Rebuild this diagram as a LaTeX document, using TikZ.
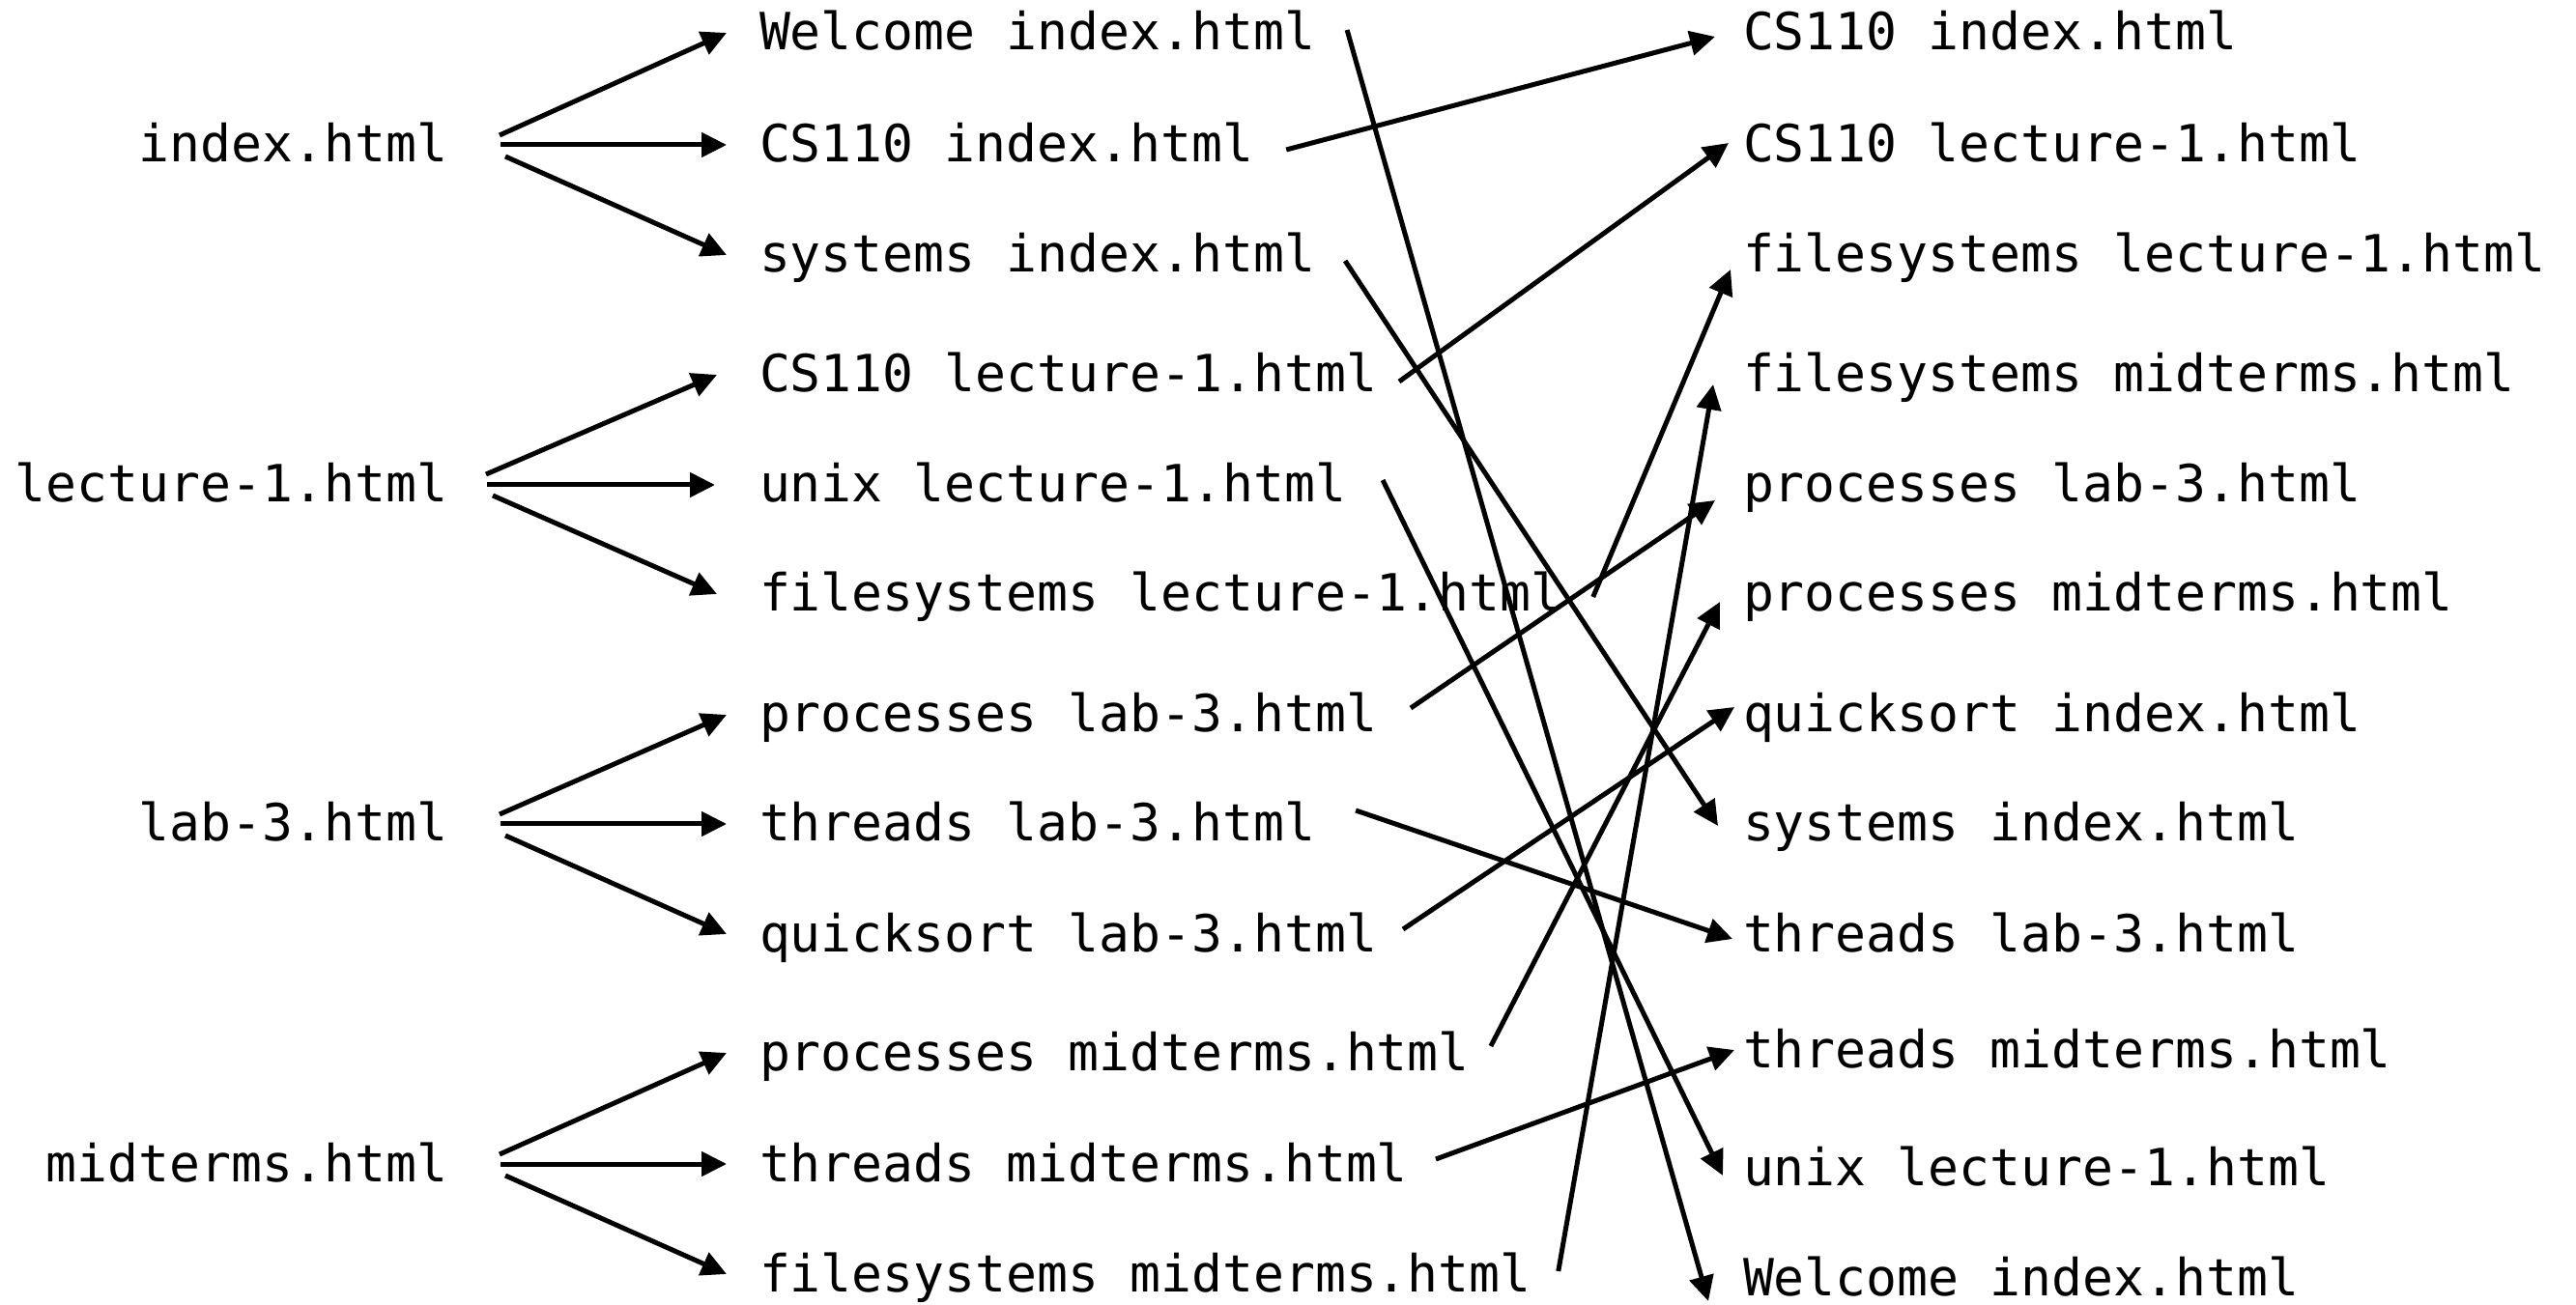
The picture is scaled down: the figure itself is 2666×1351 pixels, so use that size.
\documentclass[tikz,border=0pt]{standalone}
\usepackage{fontspec}
\setmainfont{DejaVu Sans Mono}
\usetikzlibrary{arrows.meta}
\tikzset{
  lbl/.style={inner sep=0pt, outer sep=0pt, text height=4mm, text depth=0.4mm, font=\fontsize{15.1pt}{18pt}\selectfont},
  leftlbl/.style={lbl, anchor=east},
  collbl/.style={lbl, anchor=west},
  arr/.style={-{Triangle[length=2.6mm,width=2.5mm]}, line width=0.5mm, black},
}
\begin{document}
\begin{tikzpicture}[x=0.1mm,y=-0.1mm]
\fill[white] (0,0) rectangle (2666,1351);
\useasboundingbox (0,0) rectangle (2666,1351);
% left column
\node[leftlbl] (l1) at (463,150) {index.html};
\node[leftlbl] (l2) at (463,502) {lecture-1.html};
\node[leftlbl] (l3) at (463,853) {lab-3.html};
\node[leftlbl] (l4) at (463,1205) {midterms.html};
% middle column
\node[collbl] (m1) at (786,34) {Welcome index.html};
\node[collbl] (m2) at (786,150) {CS110 index.html};
\node[collbl] (m3) at (786,264) {systems index.html};
\node[collbl] (m4) at (786,388) {CS110 lecture-1.html};
\node[collbl] (m5) at (786,502) {unix lecture-1.html};
\node[collbl] (m6) at (786,615) {filesystems lecture-1.html};
\node[collbl] (m7) at (786,740) {processes lab-3.html};
\node[collbl] (m8) at (786,853) {threads lab-3.html};
\node[collbl] (m9) at (786,967) {quicksort lab-3.html};
\node[collbl] (m10) at (786,1090) {processes midterms.html};
\node[collbl] (m11) at (786,1205) {threads midterms.html};
\node[collbl] (m12) at (786,1319) {filesystems midterms.html};
% right column
\node[collbl] (r1) at (1804,34) {CS110 index.html};
\node[collbl] (r2) at (1804,150) {CS110 lecture-1.html};
\node[collbl] (r3) at (1804,264) {filesystems lecture-1.html};
\node[collbl] (r4) at (1804,388) {filesystems midterms.html};
\node[collbl] (r5) at (1804,502) {processes lab-3.html};
\node[collbl] (r6) at (1804,615) {processes midterms.html};
\node[collbl] (r7) at (1804,740) {quicksort index.html};
\node[collbl] (r8) at (1804,853) {systems index.html};
\node[collbl] (r9) at (1804,967) {threads lab-3.html};
\node[collbl] (r10) at (1804,1087) {threads midterms.html};
\node[collbl] (r11) at (1804,1209) {unix lecture-1.html};
\node[collbl] (r12) at (1804,1323) {Welcome index.html};
% left -> middle
\draw[arr] ([shift={(54,-10)}]l1.east) -- ([shift={(-34,0)}]m1.west);
\draw[arr] ([shift={(55,0)}]l1.east) -- ([shift={(-34,0)}]m2.west);
\draw[arr] ([shift={(60,12)}]l1.east) -- ([shift={(-34,0)}]m3.west);
\draw[arr] ([shift={(40,-11)}]l2.east) -- ([shift={(-44,0)}]m4.west);
\draw[arr] ([shift={(41,0)}]l2.east) -- ([shift={(-46,0)}]m5.west);
\draw[arr] ([shift={(47,11)}]l2.east) -- ([shift={(-44,0)}]m6.west);
\draw[arr] ([shift={(54,-10)}]l3.east) -- ([shift={(-34,0)}]m7.west);
\draw[arr] ([shift={(55,0)}]l3.east) -- ([shift={(-34,0)}]m8.west);
\draw[arr] ([shift={(60,12)}]l3.east) -- ([shift={(-34,0)}]m9.west);
\draw[arr] ([shift={(54,-10)}]l4.east) -- ([shift={(-34,0)}]m10.west);
\draw[arr] ([shift={(55,0)}]l4.east) -- ([shift={(-34,0)}]m11.west);
\draw[arr] ([shift={(60,12)}]l4.east) -- ([shift={(-34,0)}]m12.west);
% middle -> right
\draw[arr] ([shift={(33,-3)}]m1.east) -- ([shift={(-36,24)}]r12.west);
\draw[arr] ([shift={(34,5)}]m2.east) -- ([shift={(-29,4)}]r1.west);
\draw[arr] ([shift={(31,6)}]m3.east) -- ([shift={(-26,2)}]r8.west);
\draw[arr] ([shift={(23,7)}]m4.east) -- ([shift={(-15,-2)}]r2.west);
\draw[arr] ([shift={(38,-5)}]m5.east) -- ([shift={(-21,8)}]r11.west);
\draw[arr] ([shift={(32,3)}]m6.east) -- ([shift={(-13,15)}]r3.west);
\draw[arr] ([shift={(35,-7)}]m7.east) -- ([shift={(-29,16)}]r5.west);
\draw[arr] ([shift={(42,-14)}]m8.east) -- ([shift={(-11,5)}]r9.west);
\draw[arr] ([shift={(27,-5)}]m9.east) -- ([shift={(-9,-8)}]r7.west);
\draw[arr] ([shift={(22,-7)}]m10.east) -- ([shift={(-24,8)}]r6.west);
\draw[arr] ([shift={(29,-5)}]m11.east) -- ([shift={(-9,0)}]r10.west);
\draw[arr] ([shift={(28,-3)}]m12.east) -- ([shift={(-31,10)}]r4.west);
\end{tikzpicture}
\end{document}
